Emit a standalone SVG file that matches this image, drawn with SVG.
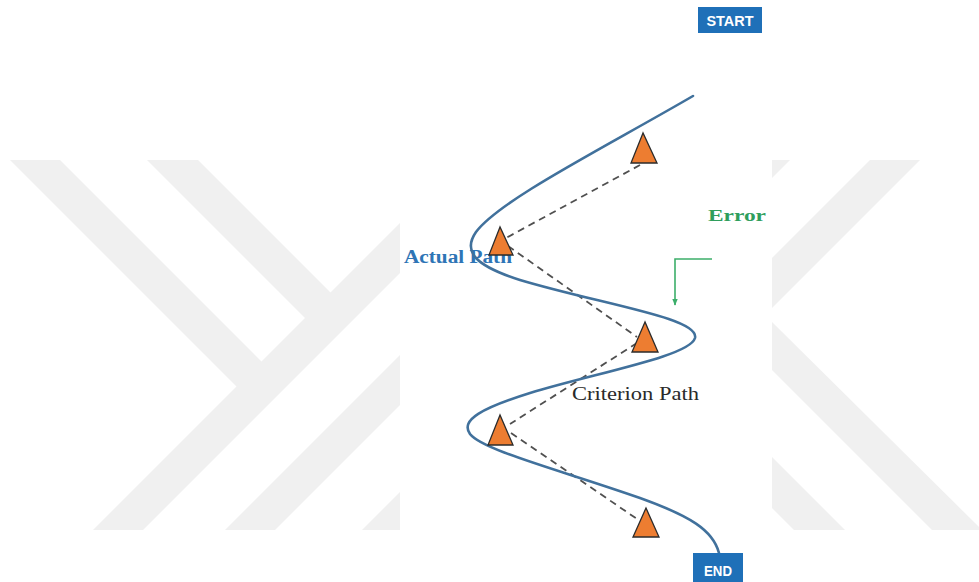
<svg xmlns="http://www.w3.org/2000/svg" width="979" height="582" viewBox="0 0 979 582">
  <style>
    .mark { fill: #f0f0f0; }
    .cone { fill: #ed7d31; stroke: #2b2b2b; stroke-width: 1.3; stroke-linejoin: miter; }
    .dash { stroke: #505050; stroke-width: 1.8; stroke-dasharray: 7 5; fill: none; }
    .box { fill: #1f70b8; }
    .boxtxt { fill: #ffffff; font-family: "Liberation Sans", Arial, sans-serif; font-weight: bold; text-anchor: middle; }
    .lbl { font-family: "Liberation Serif", "DejaVu Serif", serif; }
  </style>
  <defs>
    <marker id="arrowDown" viewBox="0 0 10 10" refX="9" refY="5" markerWidth="7" markerHeight="7" orient="auto" markerUnits="userSpaceOnUse">
      <path d="M0,1 L10,5 L0,9 Z" fill="#3cae6a"/>
    </marker>
  </defs>

  <rect x="0" y="0" width="979" height="582" fill="#ffffff"/>

  <!-- faint background bands -->
  <g id="backdrop">
    <polygon class="mark" points="10,160 60,160 261.5,361.5 305,318 147,160 198,160 330.5,292.5 400,223 400,273 143,530 93,530 236.5,386.5"/>
    <polygon class="mark" points="225,530 275,530 400,405 400,355"/>
    <polygon class="mark" points="362,530 400,530 400,492"/>
    <polygon class="mark" points="870,160 920,160 772,308 772,258"/>
    <polygon class="mark" points="772,160 790,160 772,178"/>
    <polygon class="mark" points="772,322 772,370 932,530 979,530 979,527"/>
    <polygon class="mark" points="772,457 772,508 794,530 845,530"/>
    <rect x="400" y="0" width="372" height="582" fill="#ffffff"/>
  </g>

  <!-- text labels -->
  <g id="label-actual">
    <text class="lbl" x="404" y="263" font-size="18" font-weight="bold" fill="#2e75b6" textLength="108" lengthAdjust="spacingAndGlyphs">Actual Path</text>
  </g>
  <g id="label-criterion">
    <text class="lbl" x="572" y="400" font-size="18" fill="#2a2a2a" textLength="127" lengthAdjust="spacingAndGlyphs">Criterion Path</text>
  </g>
  <g id="label-error">
    <text class="lbl" x="708" y="221" font-size="17" font-weight="bold" fill="#2f9e5c" textLength="58" lengthAdjust="spacingAndGlyphs">Error</text>
  </g>

  <!-- connectors -->
  <g id="connectors">
    <line class="dash" x1="640" y1="165" x2="506" y2="238"/>
    <line class="dash" x1="508" y1="246" x2="637" y2="337"/>
    <line class="dash" x1="637" y1="343" x2="510" y2="424"/>
    <line class="dash" x1="511" y1="433" x2="640" y2="521"/>
    <path id="actual-path" d="M693,96 C600,150 500,200 476,232 C462,252 476,266 520,280 C600,304 700,318 695,338 C690,356 600,372 530,393 C482,408 460,420 470,434 C482,450 560,470 640,498 C690,516 713,530 719,553" fill="none" stroke="#41719c" stroke-width="2.6" stroke-linecap="round"/>
    <path id="error-arrow" d="M712,259 L675,259 L675,305" fill="none" stroke="#3cae6a" stroke-width="1.6" marker-end="url(#arrowDown)"/>
  </g>

  <!-- cones -->
  <g id="cone-1"><polygon class="cone" points="643,133 631,163 657,163"/></g>
  <g id="cone-2"><polygon class="cone" points="500,227 489,255 513,255"/></g>
  <g id="cone-3"><polygon class="cone" points="645,322 632,352 658,352"/></g>
  <g id="cone-4"><polygon class="cone" points="500,415 488,445 513,445"/></g>
  <g id="cone-5"><polygon class="cone" points="646,508 633,537 659,537"/></g>

  <!-- start / end boxes -->
  <g id="start">
    <rect class="box" x="698" y="7" width="64" height="26"/>
    <text class="boxtxt" x="730" y="26" font-size="14" textLength="47" lengthAdjust="spacingAndGlyphs">START</text>
  </g>
  <g id="end">
    <rect class="box" x="693" y="553" width="50" height="29"/>
    <text class="boxtxt" x="718" y="576" font-size="14" textLength="28" lengthAdjust="spacingAndGlyphs">END</text>
  </g>
</svg>
